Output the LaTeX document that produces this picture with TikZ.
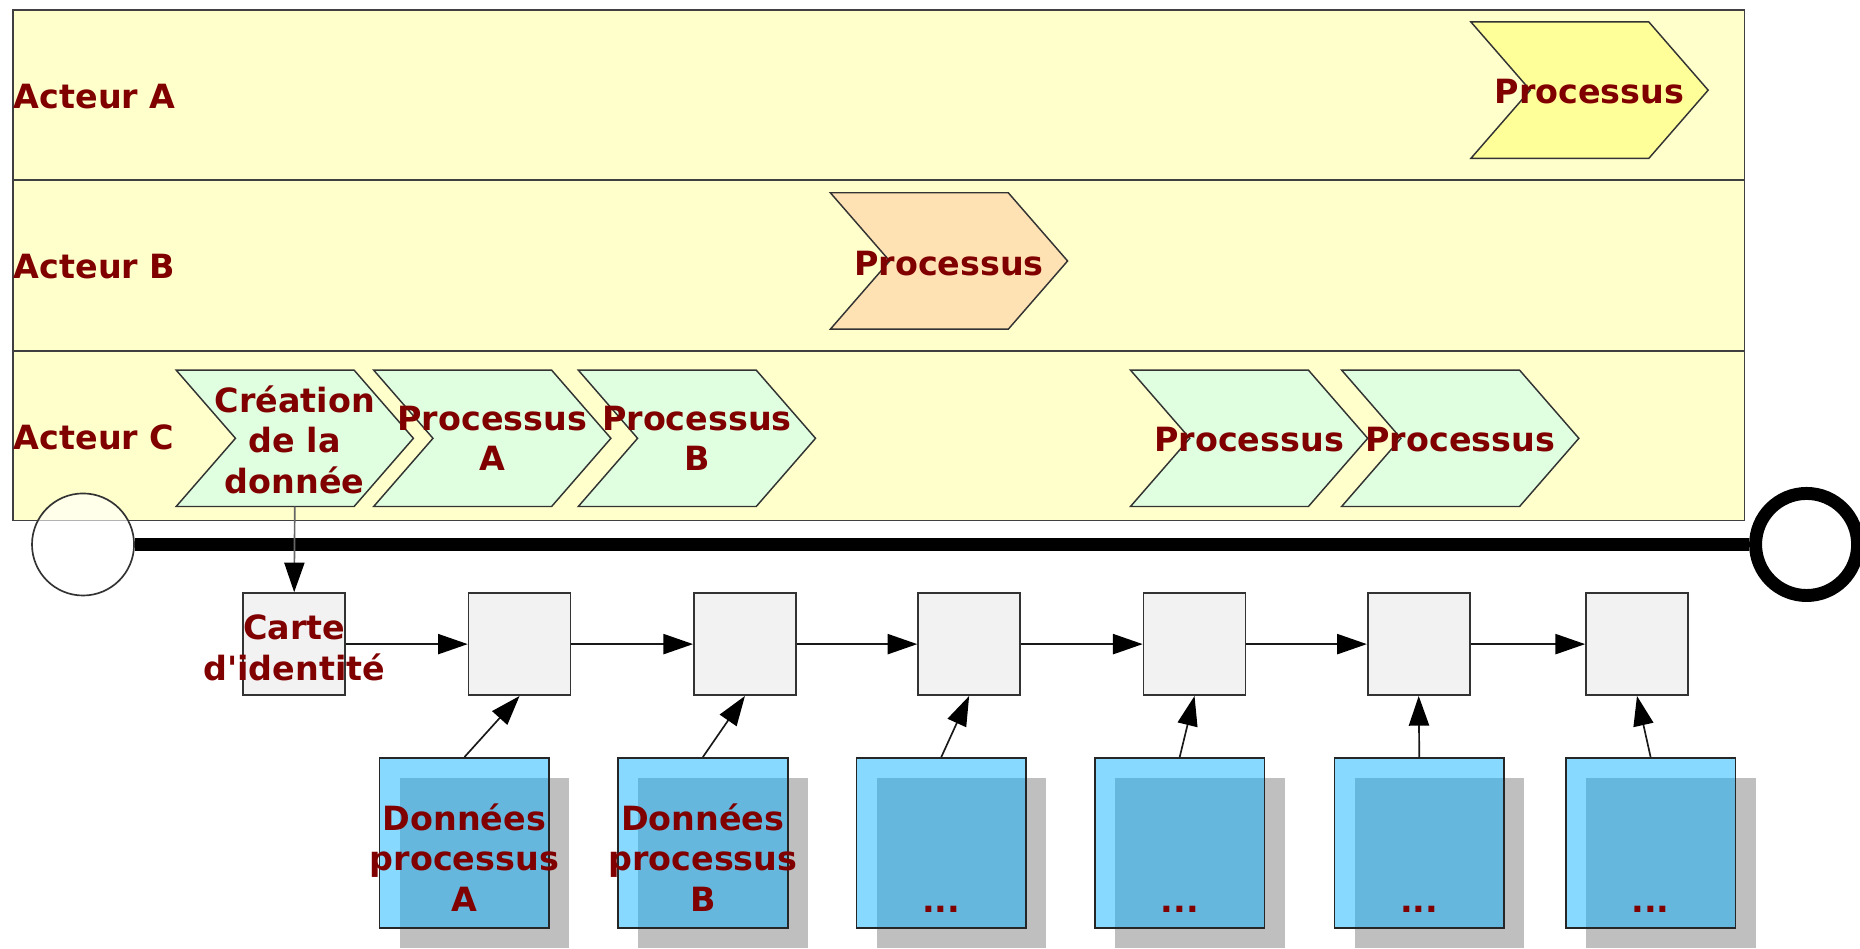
\documentclass[tikz,border=0pt]{standalone}
\usepackage{fontspec}
\newfontfamily\lblfont{DejaVu Sans}
\usetikzlibrary{arrows.meta}
\definecolor{lane}{RGB}{255,255,204}
\definecolor{txt}{RGB}{128,0,0}
\definecolor{chevA}{RGB}{255,255,153}
\definecolor{chevB}{RGB}{255,226,180}
\definecolor{chevC}{RGB}{224,255,224}
\definecolor{boxgray}{RGB}{242,242,242}
\definecolor{dataBlue}{RGB}{0,174,255}
\definecolor{shadowgray}{RGB}{191,191,191}
\tikzset{
 lbl/.style={text=txt, font=\lblfont\bfseries\fontsize{8}{9.7}\selectfont, align=center, inner sep=0pt},
 lanebox/.style={draw=black!75, fill=lane, minimum width=14.59cm, anchor=north west, inner sep=0pt, line width=0.4pt},
 chevline/.style={draw=black!80, line width=0.35pt},
 rowbox/.style={draw=black!80, fill=boxgray, minimum width=0.86cm, minimum height=0.86cm, inner sep=0pt, line width=0.4pt},
 databox/.style={draw=black!85, fill=dataBlue, fill opacity=0.47, minimum width=1.43cm, minimum height=1.43cm, inner sep=0pt, line width=0.4pt},
 shadowbox/.style={fill=shadowgray, minimum width=1.43cm, minimum height=1.43cm, inner sep=0pt},
 flow/.style={-{Triangle[length=0.25cm,width=0.17cm,color=black]}, line width=0.4pt, draw=black!90},
}
\newcommand\mychev[6]{%
 \filldraw[chevline, fill=#4] (#2-100,#3-57.5) -- (#2+50,#3-57.5) -- (#2+100,#3) -- (#2+50,#3+57.5) -- (#2-100,#3+57.5) -- (#2-50,#3) -- cycle;
 \node[lbl, minimum width=2cm, minimum height=1.15cm] (#1) at (#2,#3+#6) {#5};
}
\begin{document}
\begin{tikzpicture}[x=0.01cm, y=-0.01cm]
\useasboundingbox (0,0) rectangle (1568,800);
% lanes
\node[lanebox, minimum height=1.43cm] (laneA) at (10,8) {};
\node[lanebox, minimum height=1.44cm] (laneB) at (10,151) {};
\node[lanebox, minimum height=1.43cm] (laneC) at (10,295) {};
\node[lbl, anchor=west] (la) at ([xshift=0.01cm, yshift=-0.015cm]laneA.west) {Acteur A};
\node[lbl, anchor=west] (lb) at ([xshift=0.01cm, yshift=-0.01cm]laneB.west) {Acteur B};
\node[lbl, anchor=west] (lc) at ([xshift=0.01cm, yshift=-0.015cm]laneC.west) {Acteur C};
% chevrons
\mychev{pa}{1340}{76}{chevA}{Processus}{1}
\mychev{pb}{800}{220}{chevB}{Processus}{2.5}
\mychev{cc1}{248.5}{369.5}{chevC}{Création\\de la\\donnée}{1}
\mychev{cc2}{415}{369.5}{chevC}{Processus\\A}{0}
\mychev{cc3}{587.5}{369.5}{chevC}{Processus\\B}{0}
\mychev{cc4}{1053}{369.5}{chevC}{Processus}{1}
\mychev{cc5}{1231}{369.5}{chevC}{Processus}{1}
% timeline
\node[circle, draw=black!80, fill=white, fill opacity=0.6, minimum size=0.86cm, inner sep=0pt, line width=0.4pt] (start) at (70,459) {};
\node[circle, draw=black, line width=3.1pt, minimum size=0.86cm, inner sep=0pt] (end) at (1523,459) {};
\draw[line width=3.1pt] (start.east) -- (end.west);
% row boxes
\node[rowbox] (b1) at (248,543) {};
\node[rowbox] (b2) at (438,543) {};
\node[rowbox] (b3) at (628,543) {};
\node[rowbox] (b4) at (817,543) {};
\node[rowbox] (b5) at (1007,543) {};
\node[rowbox] (b6) at (1196,543) {};
\node[rowbox] (b7) at (1380,543) {};
\node[lbl] (b1t) at (248,546) {Carte\\d'identité};
\draw[flow, draw=black!60] (cc1.south |- 0,427) -- (b1.north);
\foreach \a/\b in {b1/b2,b2/b3,b3/b4,b4/b5,b5/b6,b6/b7} \draw[flow] (\a.east) -- (\b.west);
% data boxes
\foreach \n/\x in {1/391.5,2/592.5,3/793.5,4/994.5,5/1196.5,6/1391.5}{
 \node[shadowbox] (s\n) at (\x+17,727.5) {};
 \node[databox] (d\n) at (\x,710.5) {};
}
\node[lbl, anchor=south] (d1t) at (391.5,769) {Données\\processus\\A};
\node[lbl, anchor=south] (d2t) at (592.5,769) {Données\\processus\\B};
\node[lbl, anchor=south] (d3t) at (793.5,770) {...};
\node[lbl, anchor=south] (d4t) at (994.5,770) {...};
\node[lbl, anchor=south] (d5t) at (1196.5,770) {...};
\node[lbl, anchor=south] (d6t) at (1391.5,770) {...};
\draw[flow] (d1.north) -- (b2.south);
\draw[flow] (d2.north) -- (b3.south);
\draw[flow] (d3.north) -- (b4.south);
\draw[flow] (d4.north) -- (b5.south);
\draw[flow] (d5.north) -- (b6.south);
\draw[flow] (d6.north) -- (b7.south);
\end{tikzpicture}
\end{document}
